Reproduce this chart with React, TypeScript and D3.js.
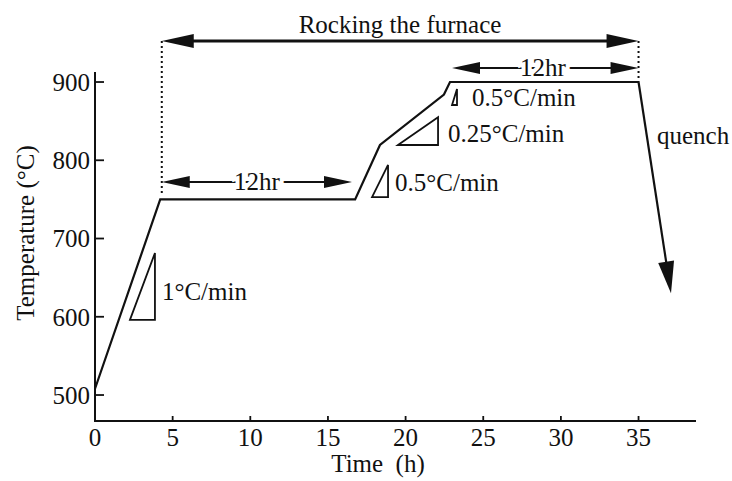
import React from "react";
import * as d3 from "d3";

// ---- data (time in h, temperature in °C) ----
const profileTime = [0, 4.2, 16.75, 18.35, 22.47, 22.86, 35];
const profileTemp = [508, 750, 750, 819.5, 884, 900, 900];
const quenchEnd = { t: 37.09, T: 630 };

const xTicks = [0, 5, 10, 15, 20, 25, 30, 35];
const yTicks = [500, 600, 700, 800, 900];

// slope triangles: bottom-left (t0,T0) to top-right (t1,T1)
const triT0 = [2.25, 17.84, 19.51, 22.99];
const triT1 = [3.86, 18.87, 22.09, 23.31];
const triTemp0 = [596, 753, 819.5, 870.6];
const triTemp1 = [681.5, 794, 855, 891];

// rate labels
const rateLabels = ["1°C/min", "0.5°C/min", "0.25°C/min", "0.5°C/min"];
const rateLabelT = [4.31, 19.32, 22.73, 24.28];
const rateLabelTemp = [621.4, 760.7, 823.3, 869.3];

// annotation arrows
const rockStart = 4.3, rockEnd = 35, rockTemp = 952.4;
const hold1Start = 4.3, hold1End = 16.55, hold1Temp = 772.2;
const hold2Start = 22.99, hold2End = 35, hold2Temp = 917.9;

const W = 732, H = 481;
const FONT = "'Liberation Serif', 'Times New Roman', serif";
const FS = 25;
const INK = "#111";

function arrowHead(x1: number, y1: number, x2: number, y2: number, len: number, half: number) {
  const a = Math.atan2(y2 - y1, x2 - x1);
  const bx = x2 - len * Math.cos(a), by = y2 - len * Math.sin(a);
  const px = -Math.sin(a) * half, py = Math.cos(a) * half;
  return `M${x2},${y2}L${bx + px},${by + py}L${bx - px},${by - py}Z`;
}

export default function App() {
  const x = d3.scaleLinear().domain([0, 38.7]).range([95, 696]);
  const y = d3.scaleLinear().domain([466.8, 912.8]).range([421, 72]);

  const line = d3.line<number>().x((_, i) => x(profileTime[i])).y((_, i) => y(profileTemp[i]));
  const lastT = profileTime[profileTime.length - 1];
  const lastTemp = profileTemp[profileTemp.length - 1];

  const qx1 = x(lastT), qy1 = y(lastTemp), qx2 = x(quenchEnd.t), qy2 = y(quenchEnd.T);

  const dbl = (t0: number, t1: number, T: number, key: string, sw: number, len: number, half: number) => {
    const x0 = x(t0), x1 = x(t1), yy = y(T);
    return (
      <g key={key}>
        <line x1={x0 + 20} x2={x1 - 20} y1={yy} y2={yy} stroke={INK} strokeWidth={sw} />
        <path d={arrowHead(x1, yy, x0, yy, len, half)} fill={INK} />
        <path d={arrowHead(x0, yy, x1, yy, len, half)} fill={INK} />
      </g>
    );
  };

  return (
    <svg width={W} height={H} style={{ position: "absolute", left: 0, top: 0, background: "#fff" }}
      fontFamily={FONT} fontSize={FS}>
      <rect width={W} height={H} fill="#fff" />
      {/* axes */}
      <line x1={x(0)} x2={x(0)} y1={y(912.8)} y2={y(466.8)} stroke={INK} strokeWidth={2} />
      <line x1={x(0) - 1} x2={x(38.7)} y1={y(466.8)} y2={y(466.8)} stroke={INK} strokeWidth={2} />
      {yTicks.map((v) => (
        <g key={"yt" + v}>
          <line x1={x(0)} x2={x(0) + 9} y1={y(v)} y2={y(v)} stroke={INK} strokeWidth={1.8} />
          <text x={x(0) - 5} y={y(v)} dy="0.35em" textAnchor="end" fill={INK}>{v}</text>
        </g>
      ))}
      {xTicks.map((v) => (
        <g key={"xt" + v}>
          {v > 0 && <line x1={x(v)} x2={x(v)} y1={y(466.8)} y2={y(466.8) - 5} stroke={INK} strokeWidth={1.8} />}
          <text x={x(v)} y={446} textAnchor="middle" fill={INK}>{v}</text>
        </g>
      ))}
      <text x={378} y={472} textAnchor="middle" fill={INK} style={{ whiteSpace: "pre" }}>{"Time  (h)"}</text>
      <text transform={`translate(34,233) rotate(-90)`} textAnchor="middle" fill={INK}>Temperature (°C)</text>

      {/* dotted guides */}
      <line x1={x(rockStart)} x2={x(rockStart)} y1={y(rockTemp)} y2={y(750) - 4} stroke={INK} strokeWidth={2} strokeDasharray="2,3" />
      <line x1={x(rockEnd)} x2={x(rockEnd)} y1={y(rockTemp)} y2={y(900)} stroke={INK} strokeWidth={2} strokeDasharray="2,3" />

      {/* profile */}
      <path d={line(profileTime) || ""} fill="none" stroke={INK} strokeWidth={2.2} strokeLinejoin="miter" />
      <line x1={qx1} y1={qy1} x2={qx1 + (qx2 - qx1) * 0.88} y2={qy1 + (qy2 - qy1) * 0.88} stroke={INK} strokeWidth={2.2} />
      <path d={arrowHead(qx1, qy1, qx2, qy2, 32, 8)} fill={INK} />

      {/* slope triangles */}
      {triT0.map((t0, i) => {
        const a = [x(t0), y(triTemp0[i])];
        const b = [x(triT1[i]), y(triTemp1[i])];
        const c = [x(triT1[i]), y(triTemp0[i])];
        return <path key={"tri" + i} d={`M${a[0]},${a[1]}L${b[0]},${b[1]}L${c[0]},${c[1]}Z`} fill="none" stroke={INK} strokeWidth={1.8} />;
      })}
      {rateLabels.map((s, i) => (
        <text key={"rl" + i} x={x(rateLabelT[i])} y={y(rateLabelTemp[i])} fill={INK}>{s}</text>
      ))}
      <text x={x(36.19)} y={y(820.8)} fill={INK}>quench</text>

      {/* annotation arrows */}
      {dbl(rockStart, rockEnd, rockTemp, "rock", 2.8, 32, 7)}
      <text x={x(19.64)} y={y(962.6)} textAnchor="middle" fill={INK}>Rocking the furnace</text>
      {dbl(hold1Start, hold1End, hold1Temp, "h1", 2.2, 28, 6)}
      <text x={x(10.43)} y={y(762)} textAnchor="middle" fill={INK} stroke="#fff" strokeWidth={8} paintOrder="stroke">12hr</text>
      {dbl(hold2Start, hold2End, hold2Temp, "h2", 2.2, 28, 6)}
      <text x={x(28.85)} y={y(907.7)} textAnchor="middle" fill={INK} stroke="#fff" strokeWidth={8} paintOrder="stroke">12hr</text>
    </svg>
  );
}
